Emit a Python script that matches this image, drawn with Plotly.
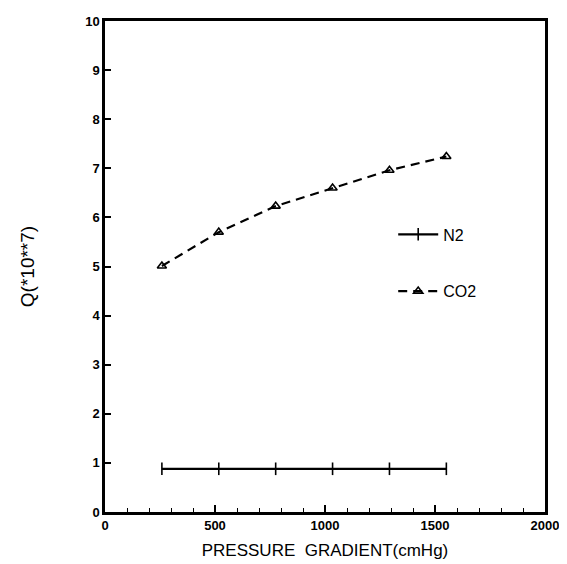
import plotly.graph_objects as go

pressure = [258.6, 517.2, 775.8, 1034.4, 1293.0, 1551.6]
q_n2 = [0.88, 0.88, 0.88, 0.88, 0.88, 0.88]
q_co2 = [5.01, 5.70, 6.23, 6.60, 6.96, 7.24]

x_ticks = [0, 500, 1000, 1500, 2000]
y_ticks = list(range(0, 11))

FONT = "Liberation Sans, Arial, sans-serif"

fig = go.Figure()
fig.add_trace(go.Scatter(
    x=pressure, y=q_n2, name="N2", mode="lines+markers",
    legendgroup="a",
    line=dict(color="black", width=2.2),
    marker=dict(symbol="line-ns-open", size=9, color="black",
                line=dict(width=1.6, color="black")),
))
fig.add_trace(go.Scatter(
    x=pressure, y=q_co2, name="CO2", mode="lines+markers",
    legendgroup="b",
    line=dict(color="black", width=2.2, dash="9px,6px"),
    marker=dict(symbol="triangle-up-open", size=8, color="black",
                line=dict(width=1.6, color="black")),
))

fig.update_layout(
    width=567, height=564,
    margin=dict(l=97, r=30, t=13, b=60),
    paper_bgcolor="white", plot_bgcolor="white",
    font=dict(family=FONT, color="black"),
    showlegend=True,
    legend=dict(x=0.655, y=0.60, xanchor="left", yanchor="top",
                bgcolor="rgba(0,0,0,0)", font=dict(size=16, family=FONT),
                tracegroupgap=33, traceorder="grouped", itemwidth=40),
    xaxis=dict(
        range=[0, 2000], tickvals=x_ticks, ticktext=[str(v) for v in x_ticks],
        ticks="inside", ticklen=7, tickwidth=1.5, tickcolor="black",
        minor=dict(dtick=100, ticks="inside", ticklen=4, tickwidth=1.2, tickcolor="black"),
        showline=True, linewidth=2.5, linecolor="black", mirror=True,
        showgrid=False, zeroline=False,
        tickfont=dict(size=13, family=FONT, weight="bold"),
        title=dict(text="PRESSURE  GRADIENT(cmHg)", font=dict(size=17, family=FONT), standoff=12),
        automargin=False,
    ),
    yaxis=dict(
        range=[0, 10], tickvals=y_ticks, ticktext=[str(v) for v in y_ticks],
        ticks="inside", ticklen=6, tickwidth=1.5, tickcolor="black",
        showline=True, linewidth=2.5, linecolor="black", mirror=True,
        showgrid=False, zeroline=False,
        tickfont=dict(size=13, family=FONT, weight="bold"),
        title=dict(text="Q(*10**7)", font=dict(size=19, family=FONT), standoff=46),
        automargin=False,
    ),
)

fig.write_html("out.html")
